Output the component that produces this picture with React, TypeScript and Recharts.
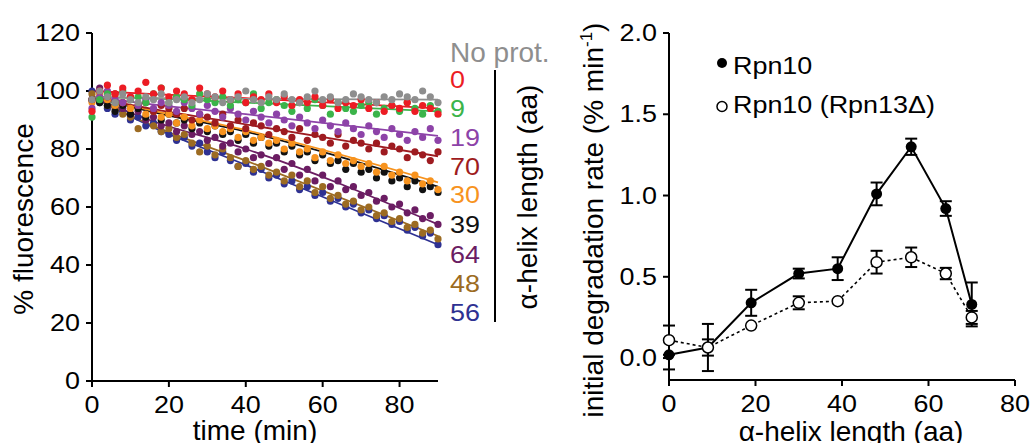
import { ComposedChart, Scatter, Line, XAxis, YAxis, ErrorBar } from "recharts";

const FONT = '"Liberation Sans", Arial, Helvetica, sans-serif';
const STRETCH = 1.17;

// sampling times (min) for the fluorescence traces
const times = [
  0, 2, 4, 6, 8, 10, 12, 14, 16, 18,
  20, 22, 24, 26, 28, 30, 32, 34, 36, 38,
  40, 42, 44, 46, 48, 50, 52, 54, 56, 58,
  60, 62, 64, 66, 68, 70, 72, 74, 76, 78,
  80, 82, 84, 86, 88, 90,
];

const noProt = [
  97, 100, 98, 96, 99, 97, 96, 98, 97, 99,
  96, 97, 98, 96, 97, 99, 98, 96, 97, 98,
  100, 97, 96, 98, 97, 99, 97, 96, 98, 100,
  97, 98, 96, 97, 99, 98, 97, 96, 98, 97,
  99, 98, 97, 100, 98, 96,
];
const helix0 = [
  93, 100, 102, 99, 101, 98, 100, 103, 99, 101,
  98, 100, 99, 97, 101, 99, 98, 100, 97, 99,
  96, 98, 97, 99, 96, 98, 95, 97, 96, 98,
  95, 97, 94, 96, 95, 97, 94, 96, 93, 95,
  94, 96, 93, 95, 94, 92,
];
const helix9 = [
  91, 97, 99, 96, 100, 97, 98, 96, 99, 101,
  96, 98, 97, 95, 99, 97, 96, 98, 95, 97,
  96, 99, 94, 96, 97, 95, 93, 96, 94, 97,
  95, 92, 96, 94, 93, 95, 96, 92, 94, 95,
  93, 96, 94, 92, 95, 93,
];
const helix19 = [
  94, 98, 100, 97, 96, 98, 95, 97, 94, 96,
  95, 93, 96, 94, 92, 95, 93, 91, 94, 92,
  90, 93, 91, 89, 92, 90, 88, 91, 89, 87,
  90, 88, 86, 89, 87, 85, 88, 86, 84, 87,
  85, 83, 86, 84, 87, 83,
];
const helix70 = [
  97, 100, 98, 99, 96, 97, 95, 96, 93, 95,
  94, 92, 94, 90, 92, 91, 89, 92, 88, 90,
  87, 89, 88, 85, 87, 86, 84, 87, 83, 85,
  84, 82, 85, 81, 83, 82, 80, 82, 79, 81,
  80, 77, 79, 78, 76, 79,
];
const helix30 = [
  96, 99, 97, 95, 96, 94, 95, 92, 93, 91,
  92, 89, 91, 88, 90, 87, 88, 86, 87, 84,
  86, 83, 84, 82, 83, 80, 82, 79, 80, 77,
  79, 76, 78, 75, 76, 74, 75, 72, 74, 71,
  72, 69, 71, 68, 69, 66,
];
const helix39 = [
  97, 96, 95, 93, 95, 92, 94, 91, 93, 90,
  92, 89, 90, 87, 89, 86, 88, 85, 86, 83,
  85, 82, 84, 81, 82, 79, 81, 78, 79, 76,
  78, 75, 76, 73, 75, 72, 73, 70, 72, 69,
  70, 67, 69, 66, 67, 65,
];
const helix64 = [
  97, 101, 97, 95, 94, 92, 93, 90, 91, 88,
  89, 86, 88, 85, 86, 83, 84, 81, 82, 79,
  80, 77, 78, 75, 77, 73, 75, 71, 73, 69,
  71, 67, 69, 66, 67, 64, 65, 62, 63, 60,
  61, 58, 59, 56, 57, 54,
];
const helix48 = [
  99, 97, 95, 94, 92, 91, 87, 90, 88, 86,
  87, 84, 85, 82, 79, 81, 78, 80, 77, 74,
  76, 73, 74, 71, 72, 69, 71, 67, 69, 65,
  67, 63, 64, 61, 62, 59, 60, 57, 58, 55,
  56, 53, 54, 51, 52, 49,
];
const helix56 = [
  100, 96, 94, 92, 93, 90, 91, 88, 89, 86,
  85, 83, 84, 81, 82, 79, 77, 79, 76, 74,
  75, 72, 73, 70, 71, 68, 69, 66, 67, 64,
  65, 62, 63, 60, 61, 58, 59, 56, 57, 54,
  55, 52, 53, 50, 51, 47,
];

// fitted curves, sampled at these times
const fitTimes = [0, 15, 40, 90];
const fitNoProt = [98, 97.5, 97.3, 97];
const fit0 = [100, 99, 97.5, 94];
const fit9 = [98, 97.5, 96, 93];
const fit19 = [98, 95.5, 92, 84.5];
const fit70 = [98, 94, 88.5, 77.5];
const fit30 = [98, 93.5, 86.5, 68.5];
const fit39 = [98, 93, 86, 67];
const fit64 = [98, 90, 80, 54];
const fit48 = [98, 88.5, 76, 50];
const fit56 = [98, 88, 74.5, 47];

const traces = [
  { label: "56", color: "#2e3192", values: helix56, fit: fit56 },
  { label: "48", color: "#9c6b22", values: helix48, fit: fit48 },
  { label: "64", color: "#6b1d63", values: helix64, fit: fit64 },
  { label: "39", color: "#111111", values: helix39, fit: fit39 },
  { label: "30", color: "#f7931e", values: helix30, fit: fit30 },
  { label: "70", color: "#9e1b20", values: helix70, fit: fit70 },
  { label: "19", color: "#8d43a8", values: helix19, fit: fit19 },
  { label: "9", color: "#3bb44a", values: helix9, fit: fit9 },
  { label: "0", color: "#ec1c24", values: helix0, fit: fit0 },
  { label: "No prot.", color: "#8e8e8e", values: noProt, fit: fitNoProt },
];

// legend order, top to bottom
const legendOrder = ["0", "9", "19", "70", "30", "39", "64", "48", "56"];

// degradation rates vs helix length
const helixLengths = [0, 9, 19, 30, 39, 48, 56, 64, 70];
const rpn10Rate = [0.02, 0.065, 0.34, 0.52, 0.55, 1.01, 1.3, 0.92, 0.33];
const rpn10Err = [0.09, 0.145, 0.08, 0.03, 0.07, 0.07, 0.05, 0.045, 0.135];
const rpn13Rate = [0.11, 0.065, 0.2, 0.34, 0.35, 0.59, 0.62, 0.52, 0.25];
const rpn13Err = [0.09, 0.05, 0, 0.04, 0, 0.07, 0.06, 0.035, 0.04];

const rateRows = helixLengths.map((len, i) => ({
  len,
  rpn10: rpn10Rate[i],
  rpn10Err: rpn10Err[i],
  rpn13: rpn13Rate[i],
  rpn13Err: rpn13Err[i],
}));

const axisStyle = { stroke: "#000", strokeWidth: 2 };

function Tick(props: any) {
  const { x, y, payload, anchor, dy, fmt } = props;
  return (
    <g transform={`translate(${x},${y})`}>
      <text
        transform={`scale(${STRETCH},1)`}
        textAnchor={anchor}
        dy={dy}
        fontSize={23}
        fontFamily={FONT}
        fill="#000"
      >
        {fmt ? fmt(payload.value) : payload.value}
      </text>
    </g>
  );
}

function FluorescencePanel() {
  return (
    <ComposedChart width={460} height={443} margin={{ top: 33, right: 22, bottom: 0, left: 0 }}>
      <XAxis
        type="number"
        dataKey="t"
        domain={[0, 90]}
        ticks={[0, 20, 40, 60, 80]}
        height={62}
        axisLine={axisStyle}
        tickLine={axisStyle}
        tickSize={6}
        tickMargin={10}
        tick={(p: any) => <Tick {...p} anchor="middle" dy="0.71em" />}
      />
      <YAxis
        type="number"
        domain={[0, 120]}
        ticks={[0, 20, 40, 60, 80, 100, 120]}
        width={92}
        axisLine={axisStyle}
        tickLine={axisStyle}
        tickSize={6}
        tickMargin={6}
        tick={(p: any) => <Tick {...p} anchor="end" dy="0.35em" />}
      />
      {traces.map((s) => (
        <Scatter
          key={"pts" + s.label}
          data={times.map((t, i) => ({ t, v: s.values[i] }))}
          dataKey="v"
          isAnimationActive={false}
          shape={(p: any) => <circle cx={p.cx} cy={p.cy} r={3.6} fill={s.color} />}
        />
      ))}
      {traces.map((s) => (
        <Line
          key={"fit" + s.label}
          data={fitTimes.map((t, i) => ({ t, v: s.fit[i] }))}
          dataKey="v"
          type="monotone"
          stroke={s.color}
          strokeWidth={1.8}
          dot={false}
          isAnimationActive={false}
        />
      ))}
    </ComposedChart>
  );
}

function RatePanel() {
  return (
    <ComposedChart
      width={495}
      height={443}
      data={rateRows}
      margin={{ top: 33, right: 20, bottom: 0, left: 0 }}
    >
      <XAxis
        type="number"
        dataKey="len"
        domain={[0, 80]}
        ticks={[0, 20, 40, 60, 80]}
        height={63}
        axisLine={axisStyle}
        tickLine={axisStyle}
        tickSize={6}
        tickMargin={10}
        tick={(p: any) => <Tick {...p} anchor="middle" dy="0.71em" />}
      />
      <YAxis
        type="number"
        domain={[-0.135, 2]}
        ticks={[0, 0.5, 1, 1.5, 2]}
        allowDataOverflow
        width={129}
        axisLine={axisStyle}
        tickLine={axisStyle}
        tickSize={6}
        tickMargin={6}
        tick={(p: any) => (
          <Tick {...p} anchor="end" dy="0.35em" fmt={(v: number) => v.toFixed(1)} />
        )}
      />
      <Line
        dataKey="rpn10"
        stroke="#000"
        strokeWidth={2}
        isAnimationActive={false}
        dot={(p: any) => <circle key={"a" + p.index} cx={p.cx} cy={p.cy} r={5.5} fill="#000" />}
      >
        <ErrorBar dataKey="rpn10Err" width={6} stroke="#000" strokeWidth={2} direction="y" />
      </Line>
      <Line
        dataKey="rpn13"
        stroke="#000"
        strokeWidth={1.6}
        strokeDasharray="3 3"
        isAnimationActive={false}
        dot={(p: any) => (
          <circle key={"b" + p.index} cx={p.cx} cy={p.cy} r={5.5} fill="#fff" stroke="#000" strokeWidth={1.5} />
        )}
      >
        <ErrorBar dataKey="rpn13Err" width={6} stroke="#000" strokeWidth={2} direction="y" />
      </Line>
    </ComposedChart>
  );
}

const legendBaselines = [88, 117, 146, 175, 203, 233, 263, 292, 321];

function Annotations() {
  return (
    <svg
      width={1035}
      height={443}
      style={{ position: "absolute", left: 0, top: 0, pointerEvents: "none" }}
      fontFamily={FONT}
    >
      <text transform="translate(33,219) rotate(-90)" textAnchor="middle" fontSize={28}>
        % fluorescence
      </text>
      <text x={255} y={440} textAnchor="middle" fontSize={28}>
        time (min)
      </text>

      <text x={450} y={62} fontSize={28} fill="#8e8e8e">
        No prot.
      </text>
      {legendOrder.map((label, i) => {
        const s = traces.find((d) => d.label === label)!;
        return (
          <text
            key={label}
            transform={`translate(450,${legendBaselines[i]}) scale(${STRETCH},1)`}
            fontSize={23}
            fill={s.color}
          >
            {label}
          </text>
        );
      })}
      <line x1={495} y1={70} x2={495} y2={322} stroke="#000" strokeWidth={2} />
      <text transform="translate(537,197) rotate(-90)" textAnchor="middle" fontSize={28}>
        α-helix length (aa)
      </text>

      <text transform="translate(603,220) rotate(-90)" textAnchor="middle" fontSize={28}>
        initial degradation rate (% min
        <tspan dy={-11} fontSize={17}>-1</tspan>
        <tspan dy={11}>)</tspan>
      </text>
      <text x={851} y={441} textAnchor="middle" fontSize={28}>
        α-helix length (aa)
      </text>

      <circle cx={722} cy={63} r={5} fill="#000" />
      <text transform={`translate(733,74) scale(${STRETCH},1)`} fontSize={23}>
        Rpn10
      </text>
      <circle cx={722} cy={106.5} r={5} fill="#fff" stroke="#000" strokeWidth={1.5} />
      <text transform={`translate(733,113) scale(${STRETCH},1)`} fontSize={23}>
        Rpn10 (Rpn13Δ)
      </text>
    </svg>
  );
}

export default function App() {
  return (
    <div style={{ position: "absolute", left: 0, top: 0, width: 1035, height: 443, background: "#fff" }}>
      <div style={{ position: "absolute", left: 0, top: 0 }}>
        <FluorescencePanel />
      </div>
      <div style={{ position: "absolute", left: 540, top: 0 }}>
        <RatePanel />
      </div>
      <Annotations />
    </div>
  );
}
